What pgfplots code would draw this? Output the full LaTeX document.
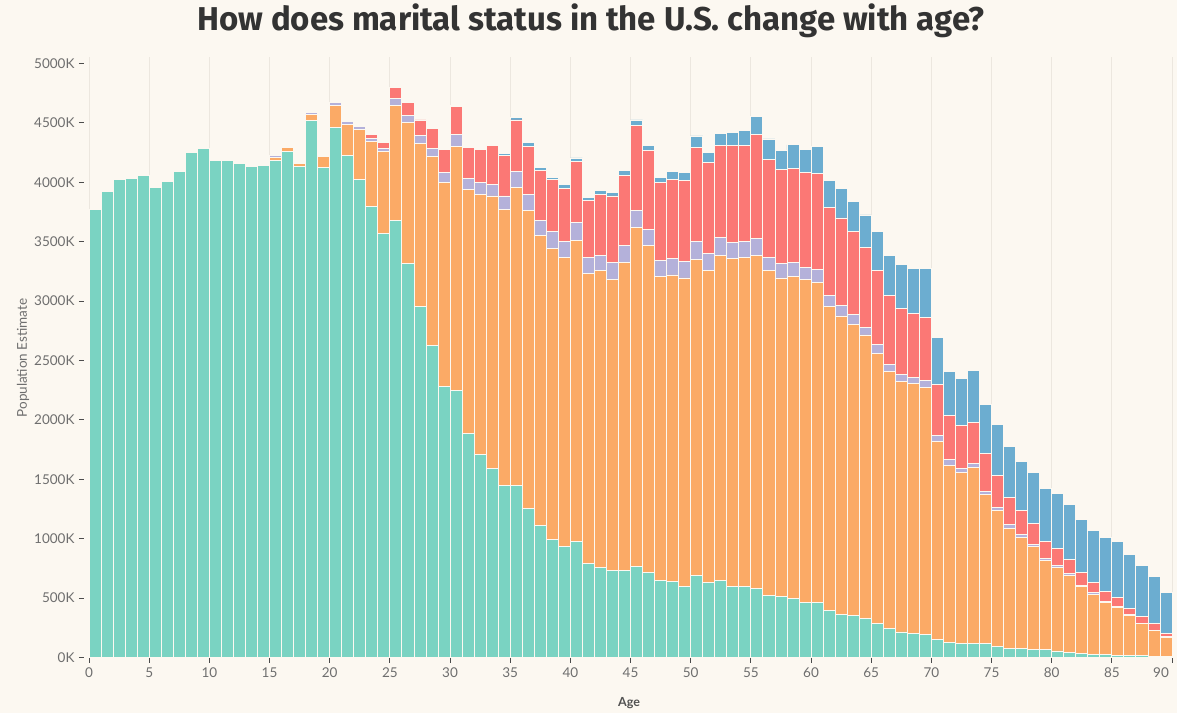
\documentclass[border=0pt]{standalone}
\usepackage{pgfplots}
\pgfplotsset{compat=1.18}
\usepackage{pgfplotstable}
\usepackage{fontspec}
\setmainfont{Lato}
\newfontfamily\titlefont{Fira Sans}
\definecolor{bg}{HTML}{FCF8F1}
\definecolor{cNM}{HTML}{7AD3C2}
\definecolor{cMA}{HTML}{FBAA66}
\definecolor{cSE}{HTML}{B4B1DA}
\definecolor{cDI}{HTML}{FB7875}
\definecolor{cWI}{HTML}{6CADD0}
\definecolor{gridc}{HTML}{ECE7DF}
\definecolor{labelc}{HTML}{6E6E6E}
\definecolor{titlec}{HTML}{333333}
% cumulative tops: T=never married, O=+married, P=+separated, R=+divorced, B=+widowed (thousands)
\pgfplotstableread{
age T O P R B
0 3770 3770 3770 3770 3770
1 3920 3920 3920 3920 3920
2 4020 4020 4020 4020 4020
3 4035 4035 4035 4035 4035
4 4060 4060 4060 4060 4060
5 3955 3955 3955 3955 3955
6 4005 4005 4005 4005 4005
7 4095 4095 4095 4095 4095
8 4250 4250 4250 4250 4250
9 4285 4285 4285 4285 4285
10 4185 4185 4185 4185 4185
11 4185 4185 4185 4185 4185
12 4160 4160 4160 4160 4160
13 4130 4130 4130 4130 4130
14 4140 4145 4145 4145 4145
15 4180 4210 4222 4222 4222
16 4260 4290 4302 4302 4302
17 4130 4158 4165 4165 4165
18 4520 4570 4585 4585 4585
19 4125 4215 4228 4228 4228
20 4465 4650 4672 4675 4675
21 4225 4490 4512 4518 4518
22 4020 4445 4468 4480 4480
23 3800 4340 4372 4402 4402
24 3570 4260 4285 4335 4337
25 3675 4650 4705 4795 4800
26 3320 4500 4560 4670 4675
27 2955 4325 4395 4525 4530
28 2625 4220 4285 4455 4460
29 2280 4000 4080 4275 4280
30 2245 4300 4405 4640 4645
31 1885 3940 4035 4295 4300
32 1710 3895 3995 4280 4285
33 1590 3885 3985 4310 4315
34 1450 3775 3885 4225 4245
35 1445 3960 4095 4525 4545
36 1255 3760 3895 4305 4335
37 1115 3550 3680 4100 4125
38 990 3445 3585 4025 4040
39 935 3370 3500 3950 3980
40 980 3510 3660 4175 4205
41 790 3235 3365 3850 3875
42 755 3255 3385 3900 3935
43 735 3180 3325 3885 3915
44 735 3325 3465 4060 4100
45 765 3620 3765 4480 4525
46 715 3465 3600 4265 4310
47 650 3205 3345 4000 4040
48 640 3220 3360 4025 4095
49 600 3195 3335 4015 4085
50 690 3350 3500 4290 4390
51 635 3255 3400 4165 4255
52 645 3385 3535 4310 4415
53 600 3355 3490 4310 4420
54 600 3370 3500 4310 4440
55 585 3385 3525 4400 4555
56 520 3255 3370 4190 4365
57 510 3195 3315 4110 4270
58 495 3210 3325 4115 4315
59 465 3180 3285 4085 4280
60 465 3155 3265 4075 4305
61 395 2955 3050 3785 4015
62 360 2875 2965 3700 3950
63 355 2800 2890 3585 3840
64 330 2715 2780 3455 3725
65 290 2560 2635 3260 3585
66 245 2410 2465 3045 3385
67 215 2325 2385 2935 3305
68 200 2310 2360 2895 3275
69 190 2275 2330 2865 3275
70 150 1820 1870 2295 2690
71 130 1620 1665 2035 2405
72 115 1555 1590 1955 2350
73 115 1600 1635 1980 2415
74 115 1375 1400 1715 2130
75 90 1235 1265 1530 1965
76 75 1090 1120 1350 1780
77 75 1010 1035 1240 1650
78 65 935 955 1130 1560
79 65 815 835 975 1420
80 55 755 775 920 1380
81 45 690 705 825 1286
82 30 595 605 712 1161
83 25 534 545 630 1070
84 22 463 472 559 1010
85 20 420 428 509 974
86 17 356 362 416 868
87 15 285 290 349 773
88 12 224 228 285 681
89 10 171 175 206 544
}\data
\begin{document}
\begin{tikzpicture}[x=1pt,y=1pt]
\fill[bg] (0,0) rectangle (1177,713);
\begin{axis}[
  at={(84pt,55.5pt)}, anchor=south west, scale only axis,
  width=1091pt, height=600.5pt,
  xmin=-0.42, xmax=90.25, ymin=0, ymax=5055,
  axis line style={draw=none},
  ybar, bar width=1, bar shift=0pt,
  xtick={0,5,...,90},
  xticklabels={0,5,10,15,20,25,30,35,40,45,50,55,60,65,70,75,80,85,\makebox[0pt]{90\hspace*{22pt}}},
  ytick={0,500,...,5000},
  yticklabels={0K,500K,1000K,1500K,2000K,2500K,3000K,3500K,4000K,4500K,5000K},
  xtick pos=bottom, ytick pos=left,
  tick align=outside, major tick length=5pt,
  tick style={color=black!70, line width=0.9pt},
  xmajorgrids, grid style={color=gridc, line width=0.9pt},
  ticklabel style={font=\fontsize{13.5}{14}\selectfont, text=labelc},
  yticklabel style={xshift=-1pt},
  xticklabel style={yshift=-2pt},
  every axis plot/.append style={draw=bg, line width=0.9pt},
]
\addplot[fill=cWI] table[x expr=\thisrow{age}+0.5, y=B] {\data};
\addplot[fill=cDI] table[x expr=\thisrow{age}+0.5, y=R] {\data};
\addplot[fill=cSE] table[x expr=\thisrow{age}+0.5, y=P] {\data};
\addplot[fill=cMA] table[x expr=\thisrow{age}+0.5, y=O] {\data};
\addplot[fill=cNM] table[x expr=\thisrow{age}+0.5, y=T] {\data};
\end{axis}
\node[anchor=base, text=titlec, inner sep=0pt] at (591,682) {\titlefont\bfseries\fontsize{33}{33}\selectfont How does marital status in the U.S.\ change with age?};
\node[rotate=90, text=labelc, font=\fontsize{13.5}{13.5}\selectfont] at (23,355) {Population Estimate};
\node[text=titlec!85, font=\bfseries\fontsize{12.5}{12.5}\selectfont] at (629,10) {Age};
\end{tikzpicture}
\end{document}
